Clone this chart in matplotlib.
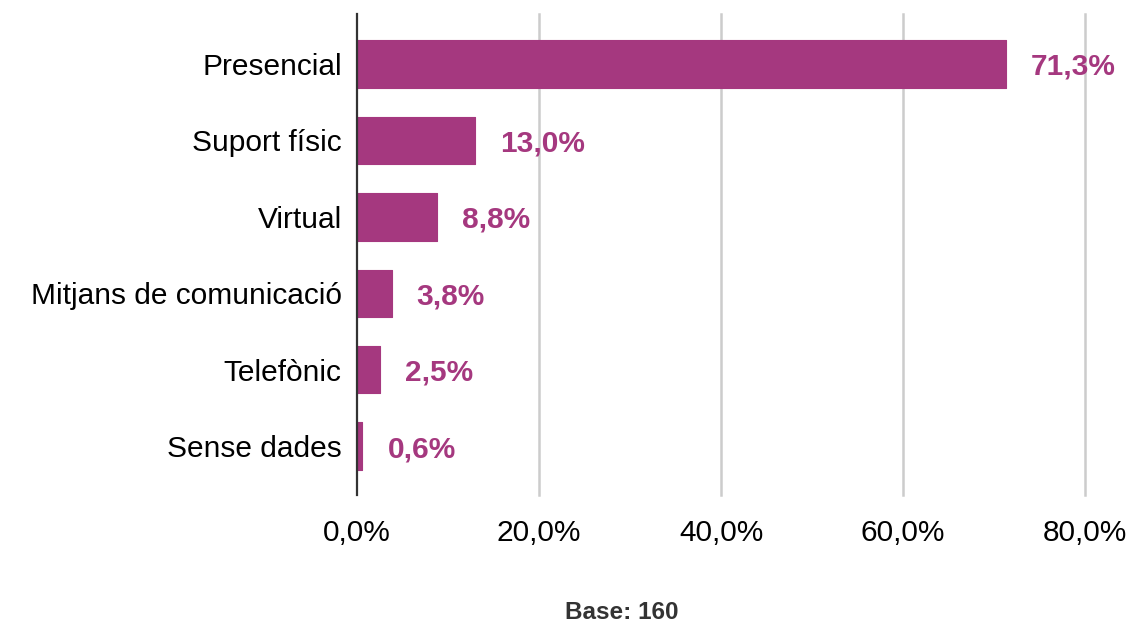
import matplotlib.pyplot as plt

# dades del gràfic
categories = ['Presencial', 'Suport físic', 'Virtual', 'Mitjans de comunicació',
              'Telefònic', 'Sense dades']
values = [71.3, 13.0, 8.8, 3.8, 2.5, 0.6]
xticks = [0, 20, 40, 60, 80]
base_text = 'Base: 160'

color = '#a5387f'
plt.rcParams['font.family'] = ['Liberation Sans', 'DejaVu Sans']

fig = plt.figure(figsize=(11.47, 6.23), dpi=100)
ax = fig.add_axes([0.3112, 0.2055, 0.635, 0.772])

pos = list(range(len(categories)))
ax.barh(pos, values, height=0.62, color=color, edgecolor=color,
        linewidth=0.8, joinstyle='round', zorder=3)

for p, v in zip(pos, values):
    ax.annotate(f'{v:.1f}%'.replace('.', ','), (v, p), xytext=(18, 0),
                textcoords='offset points', va='center_baseline', ha='left',
                fontsize=21.5, fontweight='bold', color=color, clip_on=False)

ax.set_xlim(0, 80)
ax.set_ylim(5.64, -0.654)
ax.set_yticks(pos)
ax.set_yticklabels(categories, fontsize=21.5)
ax.set_xticks(xticks)
ax.set_xticklabels([f'{t:.1f}%'.replace('.', ',') for t in xticks], fontsize=21.5)
ax.tick_params(length=0)
ax.tick_params(axis='y', pad=11)
ax.tick_params(axis='x', pad=17)

for t in xticks[1:]:
    ax.axvline(t, color='#cccccc', linewidth=1.8, zorder=1, clip_on=False)

for s in ['top', 'right', 'bottom']:
    ax.spines[s].set_visible(False)
ax.spines['left'].set_color('#333333')
ax.spines['left'].set_linewidth(1.6)
ax.spines['left'].set_zorder(4)

fig.text(0.5425, 0.006, base_text, ha='center', va='baseline', fontsize=17.5,
         fontweight='bold', color='#333333')

fig.savefig('out.png', dpi=100)
